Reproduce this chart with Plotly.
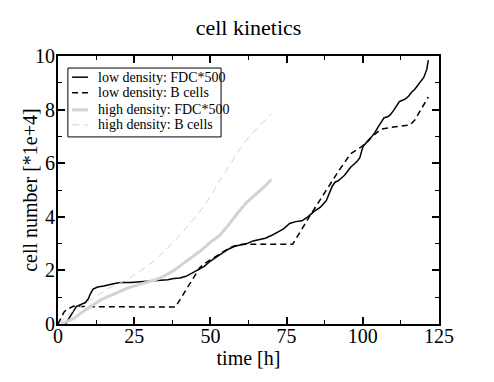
import plotly.graph_objects as go

# low density: FDC*500
low_fdc_t = [2.5, 4, 5, 6, 7, 8, 9, 10, 10.5, 11.5, 13, 15, 17, 19, 21, 24, 27, 30, 33, 36, 38,
             40, 42, 44, 46, 48, 50, 52, 54, 56, 58, 60, 62, 64, 66, 68, 70, 72, 74, 76, 78, 80,
             82, 84, 86, 88, 89, 90, 91, 92, 93, 94, 95, 96, 97, 98, 99, 100, 101, 102, 103, 104,
             105, 106, 107, 108, 109, 110, 111, 112, 113, 114, 115, 116, 117, 118, 119, 120, 121, 121.5]
low_fdc_y = [0, 0.3, 0.5, 0.65, 0.7, 0.75, 0.8, 0.95, 1.1, 1.3, 1.38, 1.42, 1.48, 1.52, 1.55, 1.55,
             1.58, 1.6, 1.62, 1.65, 1.7, 1.72, 1.78, 1.9, 2.0, 2.15, 2.35, 2.5, 2.65, 2.8, 2.9, 2.95,
             3.0, 3.1, 3.15, 3.2, 3.3, 3.42, 3.55, 3.75, 3.82, 3.85, 4.0, 4.2, 4.35, 4.6, 4.9, 5.15,
             5.3, 5.35, 5.45, 5.55, 5.7, 5.85, 5.95, 6.05, 6.2, 6.6, 6.75, 6.85, 7.0, 7.15, 7.35, 7.55,
             7.7, 7.72, 7.8, 7.95, 8.15, 8.3, 8.35, 8.4, 8.5, 8.65, 8.75, 8.9, 9.05, 9.2, 9.5, 9.85]

# low density: B cells
low_b_t = [0, 1, 2, 3, 4, 5, 6, 8, 38.5, 46.5, 48, 50, 52, 54, 56, 58, 60, 62, 77, 83, 87, 90,
           92, 96, 100, 103, 106, 110, 115.5, 117, 121.5]
low_b_y = [0, 0.25, 0.45, 0.55, 0.62, 0.66, 0.67, 0.65, 0.63, 2.1, 2.25, 2.4, 2.55, 2.7, 2.82,
           2.92, 2.97, 2.98, 2.98, 4.1, 4.8, 5.37, 5.7, 6.35, 6.65, 7.0, 7.27, 7.35, 7.43, 7.6, 8.47]

# high density: FDC*500
high_fdc_t = [1, 3, 5, 8, 10, 12, 14, 17, 20, 23, 26, 29, 32, 35, 38, 41, 44, 47, 50, 53, 56,
              59, 62, 64, 66, 68, 70]
high_fdc_y = [0, 0.1, 0.2, 0.45, 0.6, 0.75, 0.9, 1.05, 1.2, 1.35, 1.45, 1.55, 1.65, 1.8, 2.0,
              2.25, 2.5, 2.75, 3.05, 3.3, 3.7, 4.15, 4.55, 4.75, 4.95, 5.15, 5.4]

# high density: B cells
high_b_t = [0.5, 2, 4, 6, 8, 10, 13, 16, 20, 24, 28, 32, 36, 40, 44, 48, 52, 56, 60, 64, 67, 70]
high_b_y = [0, 0.2, 0.4, 0.55, 0.7, 0.85, 1.1, 1.3, 1.5, 1.75, 2.05, 2.4, 2.85, 3.3, 3.85, 4.4,
            5.15, 5.85, 6.6, 7.15, 7.5, 7.85]

serif = "Liberation Serif"

series = [
    ('low density: FDC*500', low_fdc_t, low_fdc_y, dict(color='black', width=1.5)),
    ('low density: B cells', low_b_t, low_b_y, dict(color='black', width=1.5, dash='6px,4px')),
    ('high density: FDC*500', high_fdc_t, high_fdc_y, dict(color='#d3d3d3', width=3)),
    ('high density: B cells', high_b_t, high_b_y, dict(color='#d3d3d3', width=1, dash='7px,5px')),
]

fig = go.Figure()
for name, t, y, line in series:
    fig.add_trace(go.Scatter(x=t, y=y, mode='lines', name=name, line=line))

# xmgrace-style legend box drawn by hand (plotly's legend rows are too tall)
shapes = [dict(type='rect', xref='paper', yref='paper', x0=0.026, x1=0.428, y0=0.698, y1=0.955,
               line=dict(color='black', width=1), fillcolor='white', layer='above')]
annotations = []
row_y = [0.921, 0.863, 0.799, 0.743]
for (name, _, _, line), ry in zip(series, row_y):
    shapes.append(dict(type='line', xref='paper', yref='paper', x0=0.037, x1=0.079, y0=ry, y1=ry,
                       line=line, layer='above'))
    annotations.append(dict(text=name, xref='paper', yref='paper', x=0.099, y=ry, xanchor='left',
                            yanchor='middle', showarrow=False,
                            font=dict(family=serif, size=14, color='black')))

# y axis title as an annotation so it can sit closer to the tick labels
annotations.append(dict(text='cell number [*1e+4]', xref='paper', yref='paper', x=-0.074, y=0.5,
                        xanchor='center', yanchor='middle', textangle=-90, showarrow=False,
                        font=dict(family=serif, size=20, color='black')))

axis_common = dict(showgrid=False, zeroline=False, showline=True, linecolor='black', linewidth=2,
                   mirror='ticks', ticks='inside', ticklen=7, tickwidth=1.5, tickcolor='black',
                   automargin=False,
                   tickfont=dict(family=serif, size=20, color='black'))

# page body has an 8px margin, so the plot box is shifted back by it
fig.update_layout(
    width=494, height=382,
    margin=dict(l=50, r=63, t=48, b=66),
    plot_bgcolor='white', paper_bgcolor='white',
    showlegend=False,
    shapes=shapes, annotations=annotations,
    title=dict(text='cell kinetics', x=0.487, xanchor='center', y=0.95, yanchor='middle',
               font=dict(family=serif, size=22, color='black')),
    xaxis=dict(range=[0, 125], tickvals=[0, 25, 50, 75, 100, 125], ticklabelstandoff=-7,
               minor=dict(ticks='inside', ticklen=4, tickwidth=1, tickcolor='black', dtick=12.5),
               title=dict(text='time [h]', font=dict(family=serif, size=20, color='black'), standoff=0),
               **axis_common),
    yaxis=dict(range=[0, 10], tickvals=[0, 2, 4, 6, 8, 10], ticklabelstandoff=-3,
               minor=dict(ticks='inside', ticklen=4, tickwidth=1, tickcolor='black', dtick=1),
               **axis_common),
)

fig.write_html("out.html")
